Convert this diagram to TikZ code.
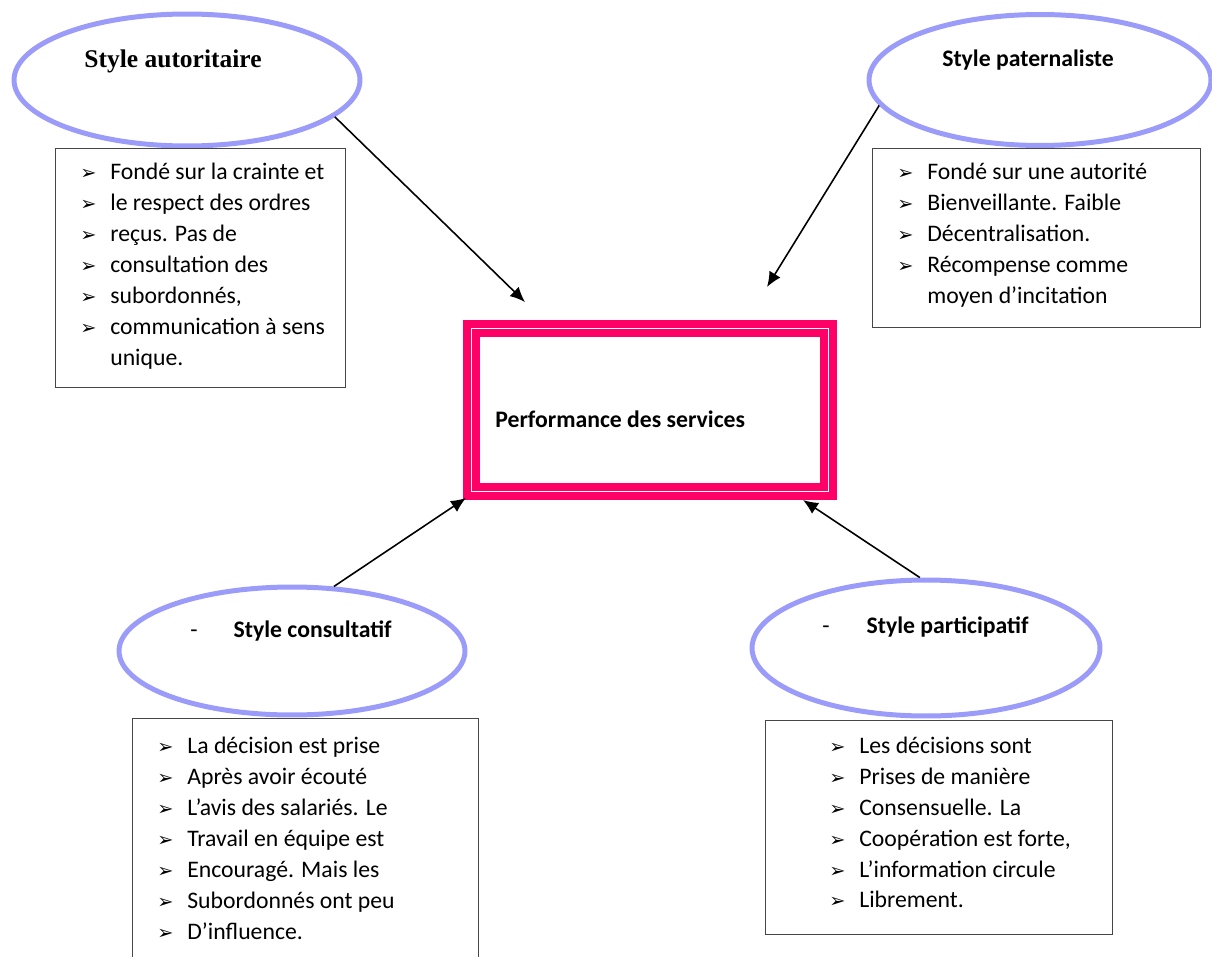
\documentclass[tikz,border=0pt]{standalone}
\usepackage{fontspec}
\setmainfont{Carlito}
\newfontfamily\timesfont{Liberation Serif}
\newfontfamily\symbfont{DejaVu Sans}
\usetikzlibrary{arrows.meta,shapes.geometric}
\definecolor{ellipse-color}{RGB}{155,155,250}
\definecolor{perf-color}{RGB}{255,0,102}
\definecolor{box-color}{RGB}{70,70,70}
\newcommand{\puce}{\makebox[0.6cm][l]{\fontsize{11}{12}\symbfont ➢}}
\newcommand{\sanspuce}{\makebox[0.6cm][l]{}}

\begin{document}
\begin{tikzpicture}[x=0.02cm, y=-0.02cm,
    bulle/.style={ellipse, draw=ellipse-color, line width=0.1cm, inner sep=0pt},
    cadre/.style={rectangle, draw=box-color, line width=0.6pt, anchor=north west, inner sep=0pt},
    liste/.style={anchor=west, align=left, inner sep=0pt, font=\fontsize{13.5}{17.6}\selectfont},
    titre/.style={inner sep=0pt, font=\fontsize{13.5}{15}\selectfont\bfseries},
    perf/.style={rectangle, draw=perf-color, line width=0.155cm, double=white, double distance=0.02cm, inner sep=0pt},
    fleche/.style={-{Latex[length=0.3cm,width=0.26cm]}, line width=0.9pt, black}]
    \useasboundingbox (0,0) rectangle (1212,956);

    % central box
    \node[perf, minimum width=7.14cm, minimum height=3.26cm] (perf) at (650,410) {};
    \node[titre, anchor=west] (perftxt) at ([xshift=-3.1cm, yshift=-0.18cm]perf.center) {Performance des services};

    % style autoritaire
    \node[bulle, minimum width=6.92cm, minimum height=2.64cm] (aut) at (187,80) {};
    \node[titre, font=\fontsize{14.5}{15}\timesfont\bfseries] (auttxt) at ([xshift=-0.28cm, yshift=0.38cm]aut.center) {Style autoritaire};
    \node[cadre, minimum width=5.8cm, minimum height=4.78cm] (autbox) at (55,148) {};
    \node[liste] (autlist) at ([xshift=0.5cm, yshift=0.04cm]autbox.west) {%
        \puce Fondé sur la crainte et\\
        \puce le respect des ordres\\
        \puce reçus. Pas de\\
        \puce consultation des\\
        \puce subordonnés,\\
        \puce communication à sens\\
        \sanspuce unique.};

    % style paternaliste
    \node[bulle, minimum width=6.84cm, minimum height=2.62cm] (pat) at (1040,80) {};
    \node[titre] (pattxt) at ([xshift=-0.24cm, yshift=0.4cm]pat.center) {Style paternaliste};
    \node[cadre, minimum width=6.56cm, minimum height=3.58cm] (patbox) at (872,148) {};
    \node[liste] (patlist) at ([xshift=0.5cm, yshift=0.06cm]patbox.west) {%
        \puce Fondé sur une autorité\\
        \puce Bienveillante. Faible\\
        \puce Décentralisation.\\
        \puce Récompense comme\\
        \sanspuce moyen d’incitation};

    % style consultatif
    \node[bulle, minimum width=6.92cm, minimum height=2.56cm] (cons) at (292,651) {};
    \node[titre, anchor=west] (constxt) at ([xshift=-2.04cm, yshift=0.4cm]cons.center) {{\mdseries -}\hspace{0.72cm}Style consultatif};
    \node[cadre, minimum width=6.92cm, minimum height=4.84cm] (consbox) at (132,718) {};
    \node[liste] (conslist) at ([xshift=0.5cm, yshift=0.02cm]consbox.west) {%
        \puce La décision est prise\\
        \puce Après avoir écouté\\
        \puce L’avis des salariés. Le\\
        \puce Travail en équipe est\\
        \puce Encouragé. Mais les\\
        \puce Subordonnés ont peu\\
        \puce D’influence.};

    % style participatif
    \node[bulle, minimum width=6.96cm, minimum height=2.72cm] (part) at (926,648) {};
    \node[titre, anchor=west] (parttxt) at ([xshift=-2.08cm, yshift=0.42cm]part.center) {{\mdseries -}\hspace{0.74cm}Style participatif};
    \node[cadre, minimum width=6.94cm, minimum height=4.28cm] (partbox) at (765,720) {};
    \node[liste] (partlist) at ([xshift=1.28cm, yshift=0.1cm]partbox.west) {%
        \puce Les décisions sont\\
        \puce Prises de manière\\
        \puce Consensuelle. La\\
        \puce Coopération est forte,\\
        \puce L’information circule\\
        \puce Librement.};

    % arrows
    \coordinate (autend) at (525,302);
    \coordinate (patend) at (767,287);
    \coordinate (consend) at (466,498);
    \coordinate (partend) at (803,500);
    \draw[fleche] (aut.-14) -- (autend);
    \draw[fleche] (pat.189) -- (patend);
    \draw[fleche] (cons.57) -- (consend);
    \draw[fleche] (part.95) -- (partend);
\end{tikzpicture}
\end{document}
